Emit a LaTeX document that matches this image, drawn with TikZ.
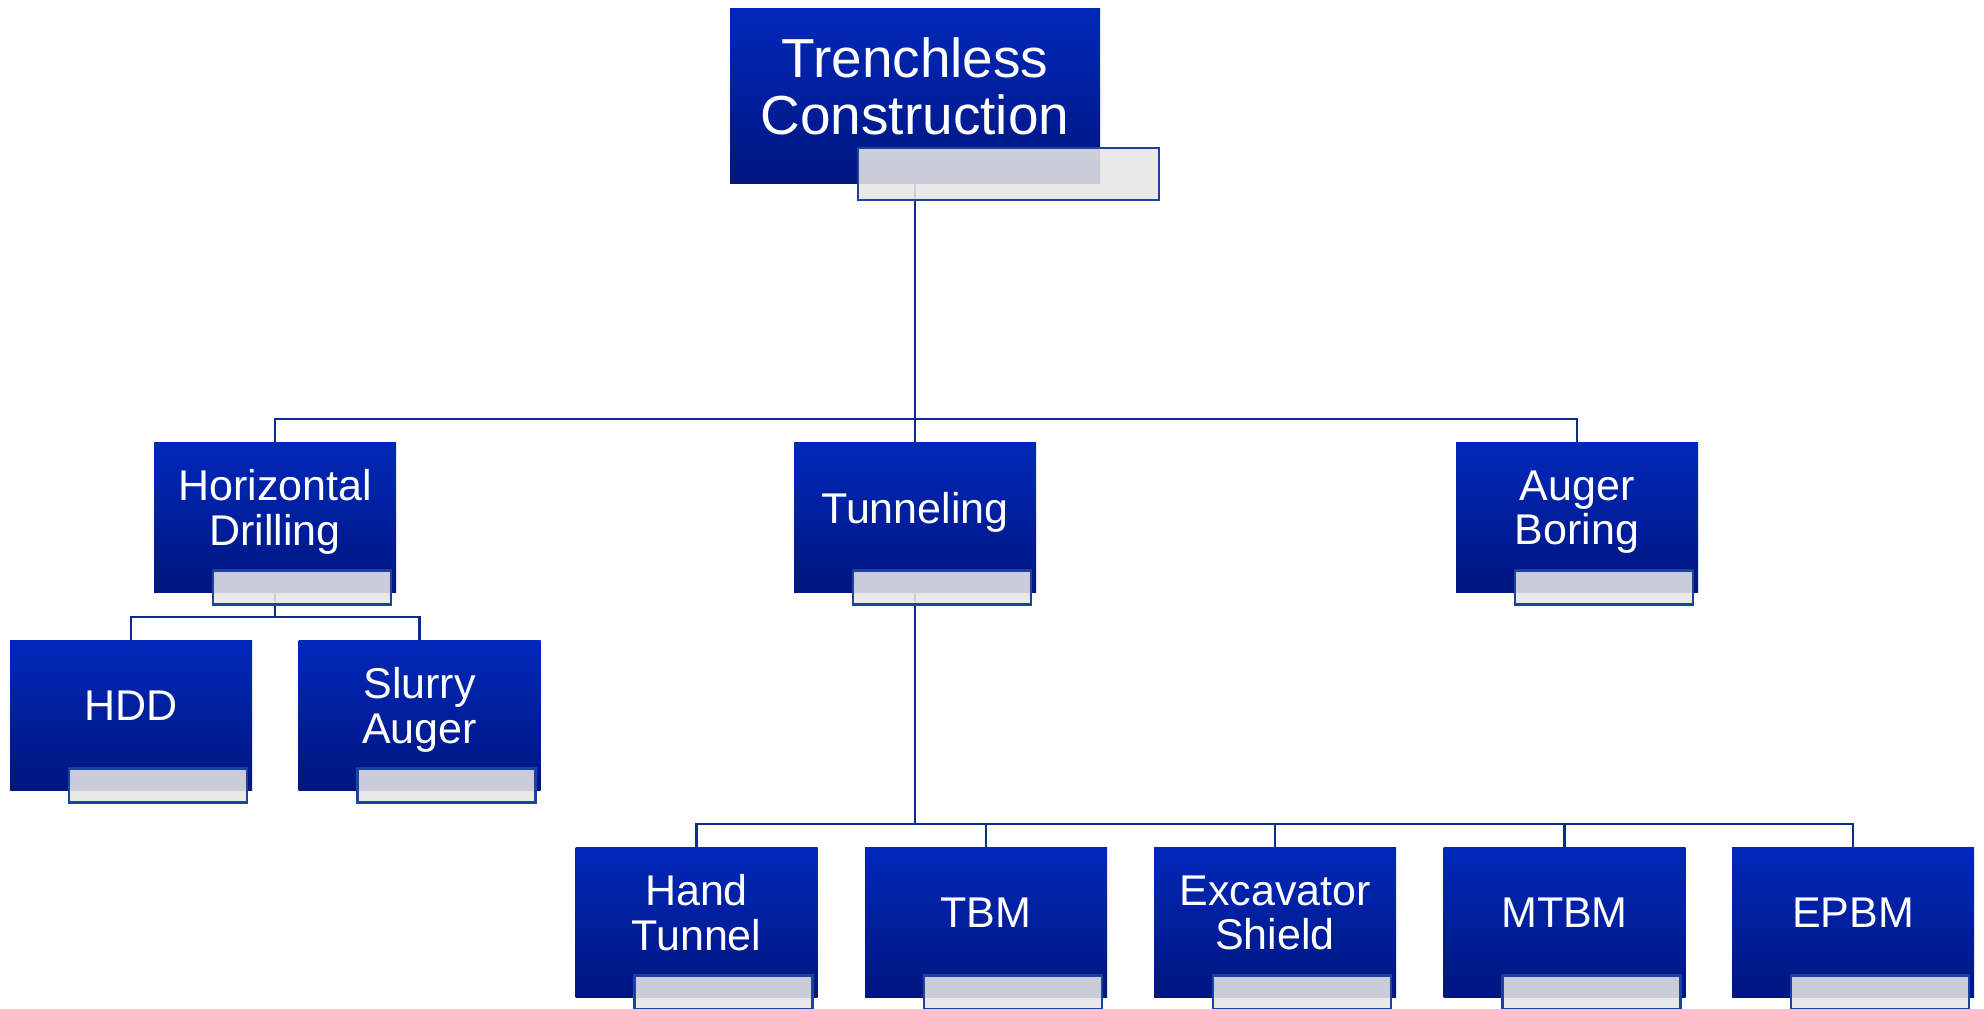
\documentclass[tikz,border=0pt]{standalone}
\usepackage{fontspec}
\setmainfont{Liberation Sans}
\definecolor{btop}{RGB}{0,40,185}
\definecolor{bbot}{RGB}{0,22,128}
\definecolor{lineblue}{RGB}{12,44,140}
\definecolor{labedge}{RGB}{28,66,160}
\definecolor{labfill}{RGB}{230,230,230}
\begin{document}
\begin{tikzpicture}[x=1pt,y=-1pt,
  bluebox/.style={rectangle, inner sep=0pt, outer sep=0pt, minimum width=242pt, minimum height=150pt, top color=btop, bottom color=bbot, draw=none},
  labbox/.style={rectangle, inner sep=0pt, outer sep=0pt, minimum width=178pt, minimum height=34pt, draw=labedge, line width=2.2pt, fill=labfill, fill opacity=0.88},
  txt/.style={text=white, align=center, font=\fontsize{43}{44.5}\selectfont, inner sep=0pt},
  conn/.style={draw=lineblue, line width=2.7pt}]
\useasboundingbox (0,0) rectangle (1984,1009);
\fill[white] (0,0) rectangle (1984,1009);
% blue boxes
\node[bluebox, minimum width=370pt, minimum height=175pt] (top) at (915,95.5) {};
\node[bluebox] (hd)  at (275,517.5) {};
\node[bluebox] (tun) at (915,517.5) {};
\node[bluebox] (aug) at (1577,517.5) {};
\node[bluebox] (hdd) at (131,715.5) {};
\node[bluebox] (slu) at (419.5,715.5) {};
\node[bluebox] (hand) at (696.5,922.5) {};
\node[bluebox] (tbm)  at (986,922.5) {};
\node[bluebox] (exc)  at (1275,922.5) {};
\node[bluebox] (mtbm) at (1564.5,922.5) {};
\node[bluebox] (epbm) at (1853,922.5) {};
% connectors
\coordinate (j1) at (915,419);
\draw[conn] (top.south) -- (j1);
\draw[conn] (j1) -| (hd.north);
\draw[conn] (j1) -| (aug.north);
\draw[conn] (j1) -- (tun.north);
\coordinate (j2) at (275,617);
\draw[conn] (hd.south) -- (j2);
\draw[conn] (j2) -| (hdd.north);
\draw[conn] (j2) -| (slu.north);
\coordinate (j3) at (915,824);
\draw[conn] (tun.south) -- (j3);
\draw[conn] (j3) -| (hand.north);
\draw[conn] (j3) -| (tbm.north);
\draw[conn] (j3) -| (exc.north);
\draw[conn] (j3) -| (mtbm.north);
\draw[conn] (j3) -| (epbm.north);
% label boxes
\node[labbox, minimum width=301pt, minimum height=52pt, anchor=north east] (top-l) at ([xshift=59pt,yshift=35pt]top.south east) {};
\foreach \n in {hd,tun,aug,hdd,slu,hand,tbm,exc,mtbm,epbm}{
  \node[labbox, anchor=north east] (\n-l) at ([xshift=-5pt,yshift=22pt]\n.south east) {};
}
% texts
\node[txt, font=\fontsize{55}{56.5}\selectfont] (top-t) at (915,86.5) {Trenchless\\Construction};
\node[txt] (hd-t)   at ([yshift=5.5pt]hd.center)   {Horizontal\\Drilling\vphantom{g}};
\node[txt] (tun-t)  at ([yshift=5.5pt]tun.center)  {Tunneling\vphantom{g}};
\node[txt] (aug-t)  at ([yshift=5.5pt]aug.center)  {Auger\\Boring\vphantom{g}};
\node[txt] (hdd-t)  at ([yshift=5.5pt]hdd.center)  {HDD\vphantom{g}};
\node[txt] (slu-t)  at ([yshift=5.5pt]slu.center)  {Slurry\\Auger\vphantom{g}};
\node[txt] (hand-t) at ([yshift=5.5pt]hand.center) {Hand\\Tunnel\vphantom{g}};
\node[txt] (tbm-t)  at ([yshift=5.5pt]tbm.center)  {TBM\vphantom{g}};
\node[txt] (exc-t)  at ([yshift=5.5pt]exc.center)  {Excavator\\Shield\vphantom{g}};
\node[txt] (mtbm-t) at ([yshift=5.5pt]mtbm.center) {MTBM\vphantom{g}};
\node[txt] (epbm-t) at ([yshift=5.5pt]epbm.center) {EPBM\vphantom{g}};
\end{tikzpicture}
\end{document}
